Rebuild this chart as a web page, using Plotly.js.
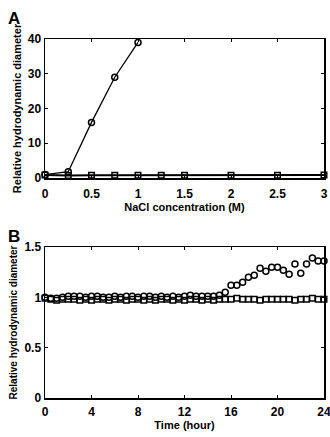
<!DOCTYPE html>
<html><head><meta charset="utf-8">
<script src="https://cdn.plot.ly/plotly-3.0.1.min.js"></script>
<style>html,body{margin:0;padding:0;background:#fff}#c{width:330px;height:437px}</style>
</head><body><div id="c"></div>
<script>
// Panel A: NaCl concentration (M)
var naclCircleX = [0, 0.25, 0.5, 0.75, 1];
var naclCircleY = [1.0, 1.8, 16, 29, 39];
var naclSquareX = [0, 0.25, 0.5, 0.75, 1, 1.25, 1.5, 2, 2.5, 3];
var naclSquareY = [0.9, 0.7, 0.8, 0.8, 0.8, 0.8, 0.8, 0.8, 0.8, 0.9];

// Panel B: time (hour)
var timeCircleX = [0,0.5,1,1.5,2,2.5,3,3.5,4,4.5,5,5.5,6,6.5,7,7.5,8,8.5,9,9.5,10,10.5,11,11.5,12,12.5,13,13.5,14,14.5,15,15.5,16,16.5,17,17.5,18,18.5,19,19.5,20,20.5,21,21.5,22,22.5,23,23.5,24];
var timeCircleY = [1.00,0.99,0.99,1.00,1.01,1.01,1.01,1.00,1.01,1.01,1.00,1.00,1.01,1.00,1.01,1.01,1.00,1.01,1.01,1.00,1.01,1.00,1.01,1.00,1.01,1.02,1.01,1.01,1.01,1.01,1.02,1.05,1.12,1.12,1.15,1.20,1.22,1.29,1.26,1.30,1.30,1.27,1.23,1.33,1.24,1.33,1.39,1.36,1.36];
var timeSquareX = [0,0.5,1,1.5,2,2.5,3,3.5,4,4.5,5,5.5,6,6.5,7,7.5,8,8.5,9,9.5,10,10.5,11,11.5,12,12.5,13,13.5,14,14.5,15,15.5,16,16.5,17,17.5,18,18.5,19,19.5,20,20.5,21,21.5,22,22.5,23,23.5,24];
var timeSquareY = [0.99,0.98,0.97,0.98,0.98,0.98,0.97,0.98,0.97,0.98,0.98,0.97,0.98,0.98,0.97,0.98,0.98,0.97,0.98,0.97,0.98,0.98,0.97,0.98,0.97,0.98,0.98,0.97,0.98,0.97,0.98,0.98,0.98,0.99,0.98,0.98,0.98,0.97,0.98,0.98,0.98,0.98,0.98,0.97,0.98,0.98,0.99,0.98,0.98];

var xTicksA = [0, 0.5, 1, 1.5, 2, 2.5, 3];
var xTickTextA = ['0', '0.5', '1', '1.5', '2', '2.5', '3'];
var yTicksA = [0, 10, 20, 30, 40];
var xTicksB = [0, 4, 8, 12, 16, 20, 24];
var yTicksB = [0, 0.5, 1, 1.5];
var yTickTextB = ['0', '0.5', '1', '1.5'];

var F = 'Liberation Sans, Arial, sans-serif';
var circ = {symbol: 'circle-open', size: 6, color: '#000', line: {width: 1.5, color: '#000'}};
var sq = {symbol: 'square-open', size: 5.5, color: '#000', line: {width: 1.5, color: '#000'}};

var traces = [
  {x: naclSquareX, y: naclSquareY, mode: 'lines+markers', marker: sq, line: {color: '#000', width: 2}, xaxis: 'x', yaxis: 'y', cliponaxis: false},
  {x: naclCircleX, y: naclCircleY, mode: 'lines+markers', marker: circ, line: {color: '#000', width: 1.3}, xaxis: 'x', yaxis: 'y', cliponaxis: false},
  {x: timeSquareX, y: timeSquareY, mode: 'markers', marker: sq, xaxis: 'x2', yaxis: 'y2', cliponaxis: false},
  {x: timeCircleX, y: timeCircleY, mode: 'markers', marker: circ, xaxis: 'x2', yaxis: 'y2', cliponaxis: false}
];

function ax(extra) {
  var a = {showgrid: false, zeroline: false, showline: true, mirror: 'ticks', linecolor: '#000', linewidth: 1.5,
    ticks: 'inside', ticklen: 3, tickcolor: '#000', tickwidth: 1, ticklabeloverflow: 'allow',
    tickfont: {family: F, size: 12, color: '#000', weight: 'bold'}};
  for (var k in extra) a[k] = extra[k];
  return a;
}
var tfA = {family: F, size: 11, color: '#000', weight: 'bold'};
var tfB = {family: F, size: 10, color: '#000', weight: 'bold'};

var layout = {
  width: 330, height: 437, showlegend: false,
  paper_bgcolor: '#fff', plot_bgcolor: '#fff',
  margin: {l: 45, r: 6, t: 39, b: 39},
  xaxis: ax({domain: [0, 1], range: [0, 3], tickvals: xTicksA, ticktext: xTickTextA, anchor: 'y', ticklabelstandoff: 4,
    title: {text: 'NaCl concentration (M)', font: tfA, standoff: 3}}),
  yaxis: ax({domain: [0.6128, 1], range: [0, 40], tickvals: yTicksA, anchor: 'x',
    title: {text: 'Relative hydrodynamic diameter', font: tfA, standoff: 4}}),
  xaxis2: ax({domain: [0, 1], range: [0, 24], tickvals: xTicksB, anchor: 'y2', ticklabelstandoff: 2,
    title: {text: 'Time (hour)', font: tfA, standoff: 1}}),
  yaxis2: ax({domain: [0, 0.4206], range: [0, 1.5], tickvals: yTicksB, ticktext: yTickTextB, anchor: 'x2',
    title: {text: 'Relative hydrodynamic diameter', font: tfB, standoff: 5}}),
  annotations: [
    {text: 'A', x: 6, y: 7, xref: 'paper', yref: 'paper', showarrow: false, xanchor: 'left', yanchor: 'top',
      font: {family: F, size: 17, color: '#000', weight: 'bold'}},
    {text: 'B', x: 6, y: 225, xref: 'paper', yref: 'paper', showarrow: false, xanchor: 'left', yanchor: 'top',
      font: {family: F, size: 17, color: '#000', weight: 'bold'}}
  ]
};
// convert pixel annotation positions to paper coords
layout.annotations.forEach(function(a){
  a.x = (a.x - 45) / (330 - 45 - 6);
  a.y = (437 - 39 - a.y) / (437 - 78);
});
Plotly.newPlot('c', traces, layout, {displayModeBar: false, staticPlot: true});
</script>
</body></html>
